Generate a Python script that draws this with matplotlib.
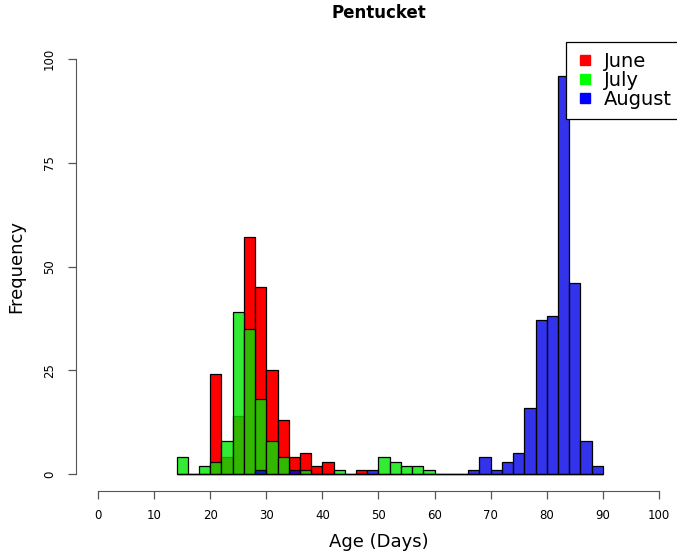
import numpy as np
import matplotlib
matplotlib.use("Agg")
import matplotlib.pyplot as plt
from matplotlib.lines import Line2D

plt.rcParams["font.family"] = ["DejaVu Sans"]

# ---------------------------------------------------------------- data (2-day bins) ----------------------------------------------------------------
bin_edges = np.arange(14, 92, 2)          # 14, 16, ..., 90
bin_starts = bin_edges[:-1]

june = [0, 0, 0, 24, 4, 14, 57, 45, 25, 13, 4, 5, 2, 3, 0, 0, 1, 0, 0,
        0, 0, 0, 0, 0, 0, 0, 0, 0, 0, 0, 0, 0, 0, 0, 0, 0, 0, 0]
july = [4, 0, 2, 3, 8, 39, 35, 18, 8, 4, 0, 1, 0, 0, 1, 0, 0, 0, 4,
        3, 2, 2, 1, 0, 0, 0, 0, 0, 0, 0, 0, 0, 0, 0, 0, 0, 0, 0]
august = [0, 0, 0, 0, 0, 0, 0, 1, 0, 0, 1, 0, 0, 0, 0, 0, 0, 1, 0,
          0, 0, 0, 0, 0, 0, 0, 1, 4, 1, 3, 5, 16, 37, 38, 96, 46, 8, 2]

months = ["June", "July", "August"]
x_ticks = [0, 10, 20, 30, 40, 50, 60, 70, 80, 90, 100]
y_ticks = [0, 25, 50, 75, 100]

# ---------------------------------------------------------------- figure ----------------------------------------------------------------
fig = plt.figure(figsize=(6.77, 5.56), dpi=100)
# R style plot region: data range padded by 4%, right side runs off the image
ax = fig.add_axes([75.6 / 677, 1 - 490.6 / 556, (681.4 - 75.6) / 677, (490.6 - 42.4) / 556])

ax.hist(bin_starts, bins=bin_edges, weights=june, color="#ff0000",
        edgecolor="black", linewidth=0.9)
ax.hist(bin_starts, bins=bin_edges, weights=july, color=(0, 0.9, 0, 0.8),
        edgecolor="black", linewidth=0.9)
ax.hist(bin_starts, bins=bin_edges, weights=august, color=(0, 0, 0.9, 0.8),
        edgecolor="black", linewidth=0.9)

ax.set_xlim(-4, 104)
ax.set_ylim(-4, 104)

# detached axes like base R graphics
for side in ["top", "right"]:
    ax.spines[side].set_visible(False)
ax.spines["left"].set_bounds(0, 100)
ax.spines["bottom"].set_bounds(0, 100)
ax.spines["left"].set_color("#555555")
ax.spines["bottom"].set_color("#555555")

ax.set_xticks(x_ticks)
ax.set_yticks(y_ticks)
ax.set_yticklabels([str(v) for v in y_ticks], rotation=90, va="center")
ax.tick_params(axis="both", length=6, width=0.9, color="#555555")
ax.tick_params(axis="x", labelsize=8.5, pad=7)
ax.tick_params(axis="y", labelsize=8.5, pad=8)

ax.set_xlabel("Age (Days)", fontsize=13, labelpad=8)
ax.set_ylabel("Frequency", fontsize=13, labelpad=13)
fig.text(379 / 677, 1 - 13 / 556, "Pentucket", fontsize=12, fontweight="bold",
         ha="center", va="center")

handles = [Line2D([], [], marker="s", linestyle="none", markersize=7, color=c)
           for c in ["#ff0000", "#00ff00", "#0000ff"]]
leg = ax.legend(handles, months, loc="upper right", bbox_to_anchor=(1, 1),
                borderaxespad=0, fontsize=14, fancybox=False, framealpha=1,
                edgecolor="black", handletextpad=0.48, labelspacing=0.0,
                borderpad=0.5, handlelength=0.96)
leg.get_frame().set_linewidth(0.9)

fig.savefig("out.png", dpi=100)
